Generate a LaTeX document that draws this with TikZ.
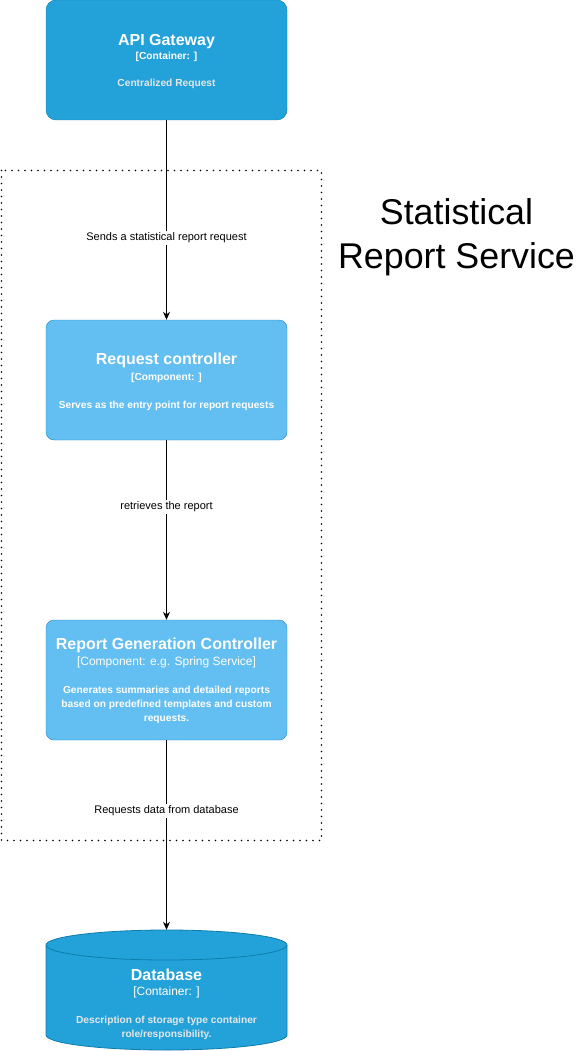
\documentclass[tikz,border=0pt]{standalone}
\usepackage{fontspec}
\setmainfont{Liberation Sans}
\usetikzlibrary{arrows.meta}
\definecolor{contfill}{HTML}{23A2D9}
\definecolor{contline}{HTML}{0E7DAD}
\definecolor{compfill}{HTML}{63BEF2}
\definecolor{compline}{HTML}{2086C9}
\definecolor{desccol}{HTML}{E6E6E6}
\tikzset{
  container/.style={draw=contline, fill=contfill, rounded corners=10pt, minimum width=241pt, minimum height=120pt, inner sep=0pt},
  component/.style={draw=compline, fill=compfill, rounded corners=8pt, minimum width=241pt, minimum height=120pt, inner sep=0pt},
  ttl/.style={text=white, font=\bfseries\fontsize{16}{18}\selectfont, inner sep=0pt, anchor=base},
  typ/.style={text=white, font=\fontsize{12}{14}\selectfont, inner sep=0pt, anchor=base},
  typb/.style={text=white, font=\bfseries\fontsize{10.2}{12}\selectfont, inner sep=0pt, anchor=base},
  desc/.style={text=#1, font=\bfseries\fontsize{10.2}{14}\selectfont, align=center, inner sep=0pt},
  titleline/.style={font=\fontsize{35.8}{40}\selectfont, inner sep=0pt, anchor=base},
  elabel/.style={fill=white, text=black, font=\fontsize{11}{13}\selectfont, inner sep=1.5pt},
  conn/.style={draw=black, line width=0.8pt, -{Stealth[length=8pt,width=7pt]}},
}
\begin{document}
\begin{tikzpicture}[x=1pt,y=-1pt]
\useasboundingbox (0,0) rectangle (581,1051);
% frame
\draw[line width=1.8pt, dash pattern=on 0pt off 6.5pt, line cap=round] (1.5,170.5) rectangle (321.5,840.5);
\node[titleline] (frametitle1) at (456.5,224) {Statistical};
\node[titleline] (frametitle2) at (456.5,268) {Report Service};
% API gateway
\node[container] (api) at (166.5,60) {};
\node[ttl] (apit) at (166.5,46) {API Gateway};
\node[typb] (apity) at (166.5,60) {[Container: ]};
\node[desc=desccol, anchor=base] (apid) at (166.5,87) {Centralized Request};
% Request controller
\node[component] (rc) at (166.5,380) {};
\node[ttl] (rct) at (166.5,364) {Request controller};
\node[typb] (rcty) at (166.5,380) {[Component: ]};
\node[desc=white, anchor=base] (rcd) at (166.5,408) {Serves as the entry point for report requests};
% Report generation controller
\node[component] (rg) at (166.5,680) {};
\node[ttl] (rgt) at (166.5,649) {Report Generation Controller};
\node[typ] (rgty) at (166.5,665) {[Component: e.g. Spring Service]};
\node[desc=white] (rgd) at (166.5,705) {Generates summaries and detailed reports\\based on predefined templates and custom\\requests.};
% Database cylinder
\node[minimum width=241pt, minimum height=120pt, inner sep=0pt] (db) at (166.5,990) {};
\fill[contfill] (46,945) -- (46,1035) arc[start angle=180, end angle=360, x radius=120.5pt, y radius=15pt] -- (287,945) arc[start angle=0, end angle=180, x radius=120.5pt, y radius=15pt] -- cycle;
\draw[contline, line width=0.8pt] (46,945) -- (46,1035) arc[start angle=180, end angle=360, x radius=120.5pt, y radius=15pt] -- (287,945) arc[start angle=0, end angle=180, x radius=120.5pt, y radius=15pt];
\draw[contline, line width=0.8pt] (46,945) arc[start angle=180, end angle=360, x radius=120.5pt, y radius=15pt];
\node[ttl] (dbt) at (166.5,980) {Database};
\node[typ] (dbty) at (166.5,995) {[Container: ]};
\node[desc=desccol] (dbd) at (166.5,1028) {Description of storage type container\\role/responsibility.};
% connectors
\draw[conn] (api.south) -- node[elabel, pos=0.59] {Sends a statistical report request} (rc.north);
\draw[conn] (rc.south) -- node[elabel, pos=0.372] {retrieves the report} (rg.north);
\draw[conn] (rg.south) -- node[elabel, pos=0.374] {Requests data from database} (db.north);
\end{tikzpicture}
\end{document}
